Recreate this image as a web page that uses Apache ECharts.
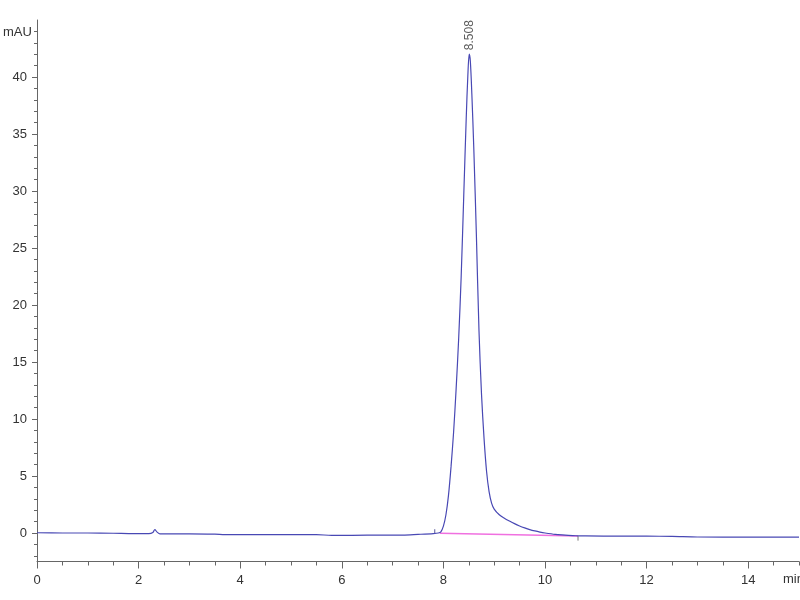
<!DOCTYPE html>
<html>
<head>
<meta charset="utf-8">
<script src="https://cdn.jsdelivr.net/npm/echarts@6/dist/echarts.min.js"></script>
<style>html,body{margin:0;padding:0;background:#fff}#c{width:800px;height:600px}</style>
</head>
<body>
<div id="c"></div>
<script>
// Retention time (min) and absorbance (mAU)
const retentionTime = [0.0,0.5,1.0,1.5,1.9,2.2,2.28,2.32,2.36,2.42,2.6,3.0,3.5,3.7,4.5,5.5,5.8,6.2,6.8,7.2,7.5,7.8,7.9,7.95,8.0,8.05,8.1,8.15,8.2,8.25,8.3,8.35,8.4,8.45,8.48,8.508,8.53,8.56,8.6,8.65,8.7,8.75,8.8,8.85,8.9,8.95,9.0,9.1,9.2,9.3,9.4,9.5,9.6,9.7,9.8,9.9,10.0,10.2,10.4,10.6,10.8,11.5,12.0,12.5,13.0,14.0,15.0];
const absorbance    = [0.02,0.0,0.0,-0.02,-0.05,-0.05,0.05,0.3,0.1,-0.08,-0.08,-0.07,-0.1,-0.14,-0.15,-0.15,-0.2,-0.2,-0.18,-0.18,-0.12,-0.05,0.0,0.1,0.6,1.6,3.3,5.8,8.8,12.6,17.0,22.5,29.5,36.5,40.0,42.0,41.4,38.5,33.5,26.0,17.8,12.2,8.3,5.4,3.6,2.6,2.1,1.6,1.3,1.05,0.82,0.62,0.45,0.3,0.18,0.08,0.0,-0.12,-0.18,-0.24,-0.26,-0.28,-0.28,-0.3,-0.35,-0.36,-0.36];
// Integration baseline (start / end)
const baselineTime  = [7.93, 10.65];
const baselineValue = [-0.02, -0.27];
// Peak annotation
const peakTime = 8.508;
const peakHeight = 42.0;
const peakLabel = '8.508';
// Axis tick labels
const xTickLabels = [0,2,4,6,8,10,12,14];
const xMinorTicks = [0,0.5,1,1.5,2,2.5,3,3.5,4,4.5,5,5.5,6,6.5,7,7.5,8,8.5,9,9.5,10,10.5,11,11.5,12,12.5,13,13.5,14,14.5,15];
const yTickLabels = [0,5,10,15,20,25,30,35,40];
const yMinorTicks = [-2,-1,0,1,2,3,4,5,6,7,8,9,10,11,12,13,14,15,16,17,18,19,20,21,22,23,24,25,26,27,28,29,30,31,32,33,34,35,36,37,38,39,40,41,42,43,44];

const trace = retentionTime.map((t, i) => [t, absorbance[i]]);
const baseline = baselineTime.map((t, i) => [t, baselineValue[i]]);

const axisColor = '#666';
const font = "'Liberation Sans Narrow', 'Liberation Sans', sans-serif";

const chart = echarts.init(document.getElementById('c'), null, {renderer: 'canvas'});
chart.setOption({
  animation: false,
  backgroundColor: '#fff',
  grid: {left: 37, right: 1, top: 20, bottom: 38.5, containLabel: false, outerBoundsMode: 'none'},
  xAxis: [{
    type: 'value', min: 0, max: 15, position: 'bottom',
    axisLine: {show: true, onZero: false, lineStyle: {color: axisColor, width: 1}},
    axisTick: {show: true, customValues: xTickLabels, length: 7, lineStyle: {color: axisColor}},
    axisLabel: {show: true, customValues: xTickLabels, margin: 12, color: '#333', fontSize: 13, fontFamily: font},
    splitLine: {show: false}
  }, {
    type: 'value', min: 0, max: 15, position: 'bottom',
    axisLine: {show: false, onZero: false},
    axisTick: {show: true, customValues: xMinorTicks, length: 4, lineStyle: {color: axisColor}},
    axisLabel: {show: false},
    splitLine: {show: false}
  }],
  yAxis: [{
    type: 'value', min: -2.5, max: 45, position: 'left',
    axisLine: {show: true, onZero: false, lineStyle: {color: axisColor, width: 1}},
    axisTick: {show: true, customValues: yTickLabels, length: 5, lineStyle: {color: axisColor}},
    axisLabel: {show: true, customValues: yTickLabels, margin: 10, color: '#333', fontSize: 13, fontFamily: font},
    splitLine: {show: false}
  }, {
    type: 'value', min: -2.5, max: 45, position: 'left',
    axisLine: {show: false, onZero: false},
    axisTick: {show: true, customValues: yMinorTicks, length: 3, lineStyle: {color: axisColor}},
    axisLabel: {show: false},
    splitLine: {show: false}
  }],
  graphic: [
    {type: 'text', left: 3, top: 26, style: {text: 'mAU', fill: '#333', font: "13px " + font}},
    {type: 'text', left: 783, top: 573, style: {text: 'min', fill: '#333', font: "13px " + font}}
  ],
  series: [
    {
      type: 'line', name: 'integration', data: baseline, showSymbol: false, silent: true,
      lineStyle: {color: '#f070e0', width: 1.5}, z: 2
    },
    {
      type: 'line', name: 'start mark', data: [[baselineTime[0] - 0.1, baselineValue[0] - 0.03], [baselineTime[0] - 0.1, baselineValue[0] + 0.35]],
      showSymbol: false, silent: true, lineStyle: {color: '#5a5a9a', width: 1}, z: 3
    },
    {
      type: 'line', name: 'end mark', data: [[baselineTime[1], baselineValue[1]], [baselineTime[1], baselineValue[1] - 0.4]],
      showSymbol: false, silent: true, lineStyle: {color: '#777', width: 1}, z: 3
    },
    {
      type: 'line', name: 'signal', data: trace, showSymbol: false, smooth: 0.3,
      lineStyle: {color: '#4848b4', width: 1.2}, z: 4
    },
    {
      type: 'scatter', name: 'peak', data: [[peakTime, peakHeight]], symbolSize: 0, z: 5,
      label: {
        show: true, formatter: peakLabel, position: 'top', distance: 4, rotate: 90,
        align: 'left', verticalAlign: 'middle', color: '#333', fontSize: 12, fontFamily: font
      }
    }
  ]
});
</script>
</body>
</html>
